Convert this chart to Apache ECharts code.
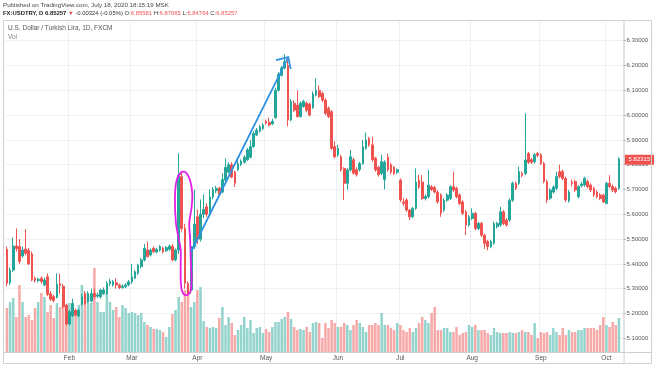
<!DOCTYPE html>
<html><head><meta charset="utf-8">
<script src="https://cdn.jsdelivr.net/npm/echarts@6/dist/echarts.min.js"></script>
<style>html,body{margin:0;padding:0;background:#fff}#c{width:654px;height:366px}</style>
</head><body><div id="c"></div>
<script>
// ---- data ----
const startDate = [2019, 0, 4];
const barCount = 197;
// [open, close, low, high]
const ohlc = [
[5.459,5.322,5.31,5.47],[5.324,5.375,5.315,5.385],[5.375,5.472,5.368,5.507],[5.472,5.462,5.45,5.543],[5.47,5.41,5.40,5.50],
[5.432,5.456,5.425,5.47],[5.46,5.443,5.435,5.54],[5.455,5.40,5.395,5.465],[5.44,5.335,5.33,5.45],[5.342,5.333,5.325,5.35],
[5.333,5.338,5.325,5.345],[5.342,5.329,5.32,5.35],[5.315,5.335,5.31,5.345],[5.348,5.278,5.27,5.362],[5.28,5.258,5.25,5.29],
[5.268,5.252,5.245,5.275],[5.265,5.318,5.26,5.362],[5.32,5.313,5.28,5.36],[5.31,5.228,5.22,5.32],[5.234,5.158,5.15,5.24],
[5.158,5.207,5.152,5.215],[5.19,5.24,5.185,5.26],[5.213,5.194,5.188,5.22],[5.19,5.213,5.185,5.22],[5.237,5.268,5.23,5.28],
[5.28,5.24,5.235,5.29],[5.248,5.281,5.242,5.29],[5.25,5.281,5.245,5.30],[5.281,5.268,5.26,5.30],[5.27,5.275,5.262,5.285],
[5.268,5.295,5.26,5.30],[5.28,5.295,5.275,5.305],[5.281,5.322,5.275,5.33],[5.32,5.33,5.31,5.34],[5.315,5.328,5.308,5.335],
[5.324,5.315,5.30,5.342],[5.315,5.305,5.298,5.32],[5.305,5.31,5.30,5.318],[5.308,5.315,5.302,5.322],[5.315,5.328,5.31,5.335],
[5.328,5.348,5.32,5.40],[5.342,5.368,5.338,5.375],[5.362,5.395,5.355,5.40],[5.389,5.416,5.382,5.425],[5.416,5.463,5.41,5.48],
[5.456,5.43,5.425,5.49],[5.436,5.456,5.43,5.462],[5.463,5.449,5.443,5.47],[5.448,5.459,5.443,5.465],[5.456,5.47,5.45,5.476],
[5.463,5.449,5.443,5.47],[5.453,5.466,5.448,5.472],[5.459,5.472,5.453,5.478],[5.47,5.416,5.41,5.48],[5.416,5.456,5.41,5.462],
[5.456,5.758,5.44,5.846],[5.752,5.543,5.53,5.77],[5.543,5.322,5.30,5.56],[5.322,5.281,5.27,5.33],[5.295,5.47,5.28,5.52],
[5.47,5.56,5.46,5.70],[5.59,5.50,5.48,5.62],[5.50,5.60,5.49,5.66],[5.60,5.62,5.585,5.68],[5.63,5.60,5.59,5.645],
[5.60,5.67,5.595,5.70],[5.67,5.70,5.66,5.71],[5.695,5.705,5.685,5.715],[5.705,5.68,5.672,5.712],[5.69,5.74,5.685,5.765],
[5.738,5.79,5.73,5.825],[5.77,5.80,5.765,5.81],[5.80,5.75,5.745,5.81],[5.77,5.725,5.71,5.775],[5.78,5.805,5.775,5.83],
[5.80,5.815,5.795,5.822],[5.81,5.83,5.805,5.838],[5.82,5.86,5.815,5.868],[5.83,5.873,5.825,5.90],[5.873,5.926,5.868,5.935],
[5.92,5.94,5.915,5.948],[5.935,5.953,5.93,5.96],[5.946,5.96,5.94,5.968],[5.975,5.968,5.962,5.982],[5.97,5.96,5.955,5.99],
[5.965,5.975,5.96,5.985],[5.99,6.10,5.985,6.11],[6.10,6.165,6.095,6.172],[6.16,6.19,6.155,6.198],[6.19,6.215,6.185,6.245],
[6.20,5.98,5.955,6.22],[5.98,6.055,5.975,6.065],[6.048,6.02,6.012,6.06],[6.04,5.994,5.99,6.10],[5.994,6.048,5.99,6.055],
[6.035,6.055,6.03,6.062],[6.048,6.02,6.012,6.055],[6.045,6.00,5.995,6.05],[6.03,6.085,6.025,6.095],[6.08,6.10,6.075,6.148],
[6.10,6.075,6.068,6.12],[6.088,6.06,6.052,6.095],[6.06,6.007,6.0,6.068],[6.027,5.994,5.988,6.035],[6.014,5.866,5.86,6.02],
[5.873,5.832,5.825,5.895],[5.839,5.866,5.832,5.88],[5.832,5.779,5.772,5.84],[5.785,5.725,5.658,5.79],[5.725,5.779,5.70,5.785],
[5.779,5.832,5.772,5.86],[5.82,5.766,5.76,5.828],[5.78,5.76,5.752,5.79],[5.78,5.805,5.772,5.812],[5.805,5.873,5.80,5.90],
[5.866,5.90,5.86,5.93],[5.906,5.88,5.872,5.912],[5.88,5.82,5.812,5.913],[5.826,5.779,5.772,5.832],[5.79,5.76,5.752,5.795],
[5.765,5.812,5.758,5.84],[5.74,5.81,5.70,5.818],[5.83,5.78,5.772,5.845],[5.80,5.77,5.762,5.808],[5.79,5.765,5.758,5.795],
[5.77,5.78,5.762,5.785],[5.738,5.658,5.65,5.745],[5.65,5.644,5.635,5.665],[5.658,5.617,5.61,5.665],[5.617,5.59,5.577,5.622],
[5.59,5.624,5.585,5.63],[5.624,5.73,5.618,5.785],[5.738,5.71,5.702,5.76],[5.73,5.664,5.658,5.758],[5.664,5.672,5.656,5.68],
[5.671,5.718,5.665,5.779],[5.711,5.70,5.694,5.718],[5.708,5.69,5.684,5.715],[5.69,5.65,5.643,5.697],[5.678,5.604,5.59,5.685],
[5.617,5.657,5.61,5.665],[5.657,5.678,5.65,5.685],[5.664,5.711,5.658,5.718],[5.711,5.698,5.69,5.772],[5.705,5.671,5.664,5.712],
[5.678,5.644,5.637,5.685],[5.65,5.604,5.597,5.657],[5.61,5.557,5.516,5.617],[5.557,5.59,5.55,5.597],[5.583,5.604,5.577,5.624],
[5.604,5.543,5.536,5.61],[5.543,5.563,5.536,5.57],[5.563,5.516,5.509,5.57],[5.516,5.483,5.46,5.522],[5.49,5.47,5.455,5.497],
[5.47,5.49,5.463,5.497],[5.483,5.563,5.477,5.57],[5.55,5.563,5.543,5.57],[5.557,5.61,5.55,5.63],[5.61,5.563,5.556,5.617],
[5.577,5.557,5.55,5.584],[5.577,5.657,5.57,5.664],[5.657,5.725,5.65,5.732],[5.725,5.705,5.698,5.732],[5.725,5.772,5.718,5.792],
[5.765,5.758,5.75,5.772],[5.765,5.819,5.758,6.007],[5.845,5.81,5.803,5.852],[5.82,5.81,5.803,5.827],[5.812,5.84,5.805,5.847],
[5.845,5.838,5.83,5.852],[5.84,5.805,5.798,5.847],[5.805,5.732,5.725,5.812],[5.732,5.658,5.645,5.74],[5.665,5.698,5.658,5.705],
[5.69,5.71,5.684,5.717],[5.705,5.752,5.698,5.772],[5.772,5.752,5.745,5.80],[5.772,5.745,5.738,5.78],[5.745,5.658,5.65,5.752],
[5.654,5.69,5.647,5.698],[5.73,5.725,5.712,5.74],[5.732,5.698,5.69,5.74],[5.671,5.711,5.664,5.718],[5.715,5.722,5.708,5.73],
[5.718,5.745,5.711,5.752],[5.732,5.712,5.705,5.74],[5.718,5.698,5.69,5.725],[5.705,5.678,5.67,5.712],[5.69,5.671,5.664,5.697],
[5.678,5.664,5.657,5.685],[5.677,5.65,5.645,5.684],[5.644,5.725,5.64,5.73],[5.725,5.712,5.705,5.758],[5.712,5.698,5.69,5.72],
[5.705,5.691,5.684,5.712],[5.705,5.82315,5.698,5.83]
];
const volume = [
44,50,54,35,67,50,35,37,32,44,50,59,55,40,47,34,49,45,55,39,49,49,42,47,67,59,57,49,84,50,40,40,59,
50,42,45,35,47,44,39,40,39,37,39,30,27,25,23,23,22,20,15,25,38,42,55,50,62,66,45,50,62,65,31,25,24,25,
24,34,45,27,35,29,17,22,27,35,24,32,19,24,25,19,23,20,25,30,30,33,35,40,33,25,22,23,22,25,20,29,30,
29,14,29,24,32,29,25,25,29,27,22,27,32,29,25,20,27,27,29,27,39,27,27,24,22,29,27,22,20,24,20,
24,29,35,32,29,39,45,22,22,24,24,20,20,25,17,19,20,27,25,27,22,22,22,19,17,24,20,19,19,19,20,19,
19,20,22,20,20,17,29,14,20,19,20,17,24,20,17,24,17,22,20,20,22,22,24,24,24,24,22,27,35,27,25,30,27,34
];
const priceTicks = [5.1,5.2,5.3,5.4,5.5,5.6,5.7,5.8,5.9,6.0,6.1,6.2,6.3];
const monthNames = ['Jan','Feb','Mar','Apr','May','Jun','Jul','Aug','Sep','Oct','Nov','Dec'];
const lastPrice = 5.82315;
// annotation drawings in [bar index, price]
const loopPath = [[55.96,5.772],[54.36,5.738],[53.81,5.658],[54.13,5.565],[54.87,5.51],[55.64,5.456],[55.64,5.389],[55.96,5.295],
  [57.33,5.273],[58.94,5.295],[58.84,5.429],[58.62,5.51],[58.39,5.565],[59.16,5.631],[59.35,5.686],[58.62,5.738],[57.33,5.768],[55.96,5.772]];
const arrowLine = [[58.94,5.448],[90.1,6.234]];
const arrowHead = [[86.16,6.222],[90.1,6.234],[90.87,6.186]];

// ---- build ----
const dates = [];
{ const d = new Date(Date.UTC(startDate[0], startDate[1], startDate[2]));
  while (dates.length < barCount) { const w = d.getUTCDay(); if (w !== 0 && w !== 6) dates.push(d.toISOString().slice(0,10)); d.setUTCDate(d.getUTCDate()+1); } }
const cats = dates.concat(['']);
const isMonthStart = i => i > 0 && i < dates.length && dates[i].slice(5,7) !== dates[i-1].slice(5,7);
const UP = '#26a69a', DN = '#ef5350', UPV = '#93d3cd', DNV = '#f7a9a8';
const volData = volume.map((v,i) => ({value: v, itemStyle: {color: ohlc[i][1] >= ohlc[i][0] ? UPV : DNV}}));
const FONT = 'Liberation Sans, Arial, sans-serif';
const L = 5.4, R = 30.4;

const chart = echarts.init(document.getElementById('c'), null, {renderer: 'canvas'});
chart.setOption({
  animation: false,
  backgroundColor: '#fff',
  grid: [
    {left: L, right: R, top: 20, height: 332},
    {left: L, right: R, top: 252, height: 100}
  ],
  xAxis: [
    {type: 'category', gridIndex: 0, data: cats, boundaryGap: true,
     axisLine: {show: false}, axisTick: {show: false}, axisLabel: {show: false},
     splitLine: {show: true, interval: (i) => isMonthStart(i), lineStyle: {color: '#eef0f3', width: 1}}},
    {type: 'category', gridIndex: 1, data: cats, boundaryGap: true,
     axisLine: {show: false}, axisTick: {show: false},
     axisLabel: {interval: (i) => isMonthStart(i), formatter: (v) => v ? monthNames[+v.slice(5,7)-1] : '',
       fontSize: 6.5, color: '#555', fontFamily: FONT, margin: 3},
     splitLine: {show: false}}
  ],
  yAxis: [
    {type: 'value', gridIndex: 0, position: 'right', min: 5.0448, max: 6.3835, scale: true,
     axisLine: {show: false},
     axisTick: {show: true, length: 2, customValues: priceTicks, lineStyle: {color: '#888'}},
     axisLabel: {customValues: priceTicks, formatter: v => v.toFixed(5), fontSize: 6, color: '#555', fontFamily: FONT, margin: 3},
     splitLine: {show: true, lineStyle: {color: '#eef0f3', width: 1}}},
    {type: 'value', gridIndex: 1, min: 0, max: 100, show: false, splitLine: {show: false}}
  ],
  series: [
    {type: 'bar', xAxisIndex: 1, yAxisIndex: 1, data: volData, barWidth: '80%', z: 1},
    {type: 'candlestick', xAxisIndex: 0, yAxisIndex: 0, data: ohlc, barWidth: 2.2, z: 3,
     itemStyle: {color: UP, color0: DN, borderColor: UP, borderColor0: DN, borderWidth: 1},
     markLine: {symbol: 'none', silent: true, animation: false, data: [{yAxis: lastPrice}],
       lineStyle: {color: 'rgba(0,0,0,0)', width: 0},
       label: {position: 'end', formatter: () => lastPrice.toFixed(5), backgroundColor: DN, color: '#fff',
         fontSize: 6, fontFamily: FONT, padding: [2, 4, 2, 4], distance: 1}}}
  ]
});

function px(p) {
  const a = chart.convertToPixel({xAxisIndex: 0}, 0);
  const b = chart.convertToPixel({xAxisIndex: 0}, 100);
  const x = a + (b - a) * p[0] / 100;
  const y = chart.convertToPixel({yAxisIndex: 0}, p[1]);
  return [x, y];
}
const gridRight = 654 - R;
chart.setOption({
  graphic: [
    {type: 'rect', shape: {x: 3.5, y: 20.5, width: 648, height: 343}, style: {fill: 'none', stroke: '#cfcfcf', lineWidth: 1}, z: 10, silent: true},
    {type: 'line', shape: {x1: gridRight + 0.5, y1: 20, x2: gridRight + 0.5, y2: 364}, style: {stroke: '#cfcfcf', lineWidth: 1}, z: 10, silent: true},
    {type: 'line', shape: {x1: 3, y1: 352.5, x2: 652, y2: 352.5}, style: {stroke: '#cfcfcf', lineWidth: 1}, z: 10, silent: true},
    {type: 'text', x: 3, y: 5, z: 10, style: {text: 'Published on TradingView.com, July 18, 2020 18:15:19 MSK', fontSize: 6.2, fontFamily: FONT, fill: '#444', verticalAlign: 'middle'}},
    {type: 'text', x: 3, y: 13.5, z: 10, style: {
      text: '{b|FX:USDTRY, D 6.85257} {r|▼} {n|-0.00324 (-0.05%) O:}{r|6.85581}{n| H:}{r|6.87065}{n| L:}{r|6.84764}{n| C:}{r|6.85257}',
      verticalAlign: 'middle', fontSize: 5.9, fontFamily: FONT,
      rich: {b: {fontWeight: 'bold', fill: '#222', fontSize: 5.9, fontFamily: FONT},
             n: {fill: '#333', fontSize: 5.9, fontFamily: FONT},
             r: {fill: '#ef5350', fontSize: 5.9, fontFamily: FONT}}}},
    {type: 'text', x: 8, y: 28.5, z: 10, style: {text: 'U.S. Dollar / Turkish Lira, 1D, FXCM', fontSize: 6.5, fontFamily: FONT, fill: '#555', verticalAlign: 'middle'}},
    {type: 'text', x: 8, y: 37.5, z: 10, style: {text: 'Vol', fontSize: 6.5, fontFamily: FONT, fill: '#888', verticalAlign: 'middle'}},
    {type: 'polyline', z: 20, silent: true, shape: {points: loopPath.map(px), smooth: 0.4}, style: {stroke: '#e31ee8', lineWidth: 1.8, fill: 'none'}},
    {type: 'polyline', z: 20, silent: true, shape: {points: arrowLine.map(px)}, style: {stroke: '#2f92e0', lineWidth: 1.8, fill: 'none'}},
    {type: 'polyline', z: 20, silent: true, shape: {points: arrowHead.map(px)}, style: {stroke: '#2f92e0', lineWidth: 1.8, fill: 'none'}}
  ]
});
</script></body></html>
